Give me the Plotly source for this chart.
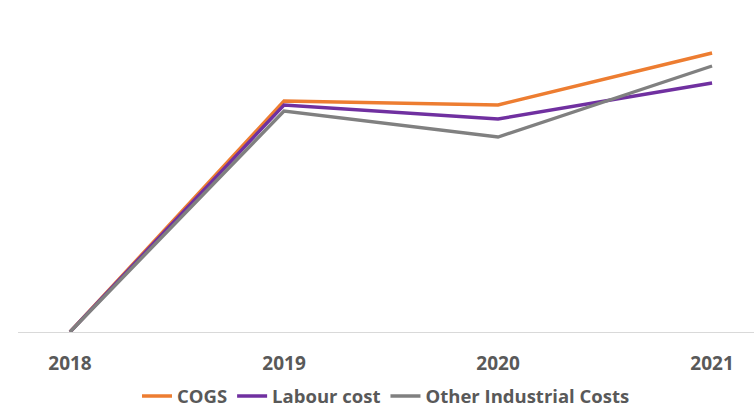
import plotly.graph_objects as go

# Cost growth indices by year (2018 = baseline)
years = ["2018", "2019", "2020", "2021"]
cogs = [0, 23.1, 22.7, 27.9]
labour_cost = [0, 22.7, 21.3, 24.9]
other_industrial = [0, 22.1, 19.5, 26.6]

series = [
    ("COGS", cogs, "#ED7D31"),
    ("Labour cost", labour_cost, "#7030A0"),
    ("Other Industrial Costs", other_industrial, "#808080"),
]

fig = go.Figure()
for name, values, color in series:
    fig.add_trace(go.Scatter(
        x=years, y=values, name=name, mode="lines",
        line=dict(color=color, width=3.4),
    ))

fig.update_layout(
    width=754, height=411,
    margin=dict(l=18, r=0, t=32, b=79, autoexpand=False),
    paper_bgcolor="white", plot_bgcolor="white",
    font=dict(family="Open Sans", color="#595959"),
    showlegend=True,
    legend=dict(
        orientation="h", x=0.5, xanchor="center",
        yref="paper", y=-0.215, yanchor="middle",
        font=dict(size=18.5, family="Open Sans", color="#595959", weight="bold"),
        itemwidth=30, tracegroupgap=0, borderwidth=0,
    ),
    xaxis=dict(
        type="category", range=[-0.243, 3.196],
        showgrid=False, zeroline=False,
        showline=False, ticks="",
        tickfont=dict(size=19, family="Open Sans", color="#595959", weight="bold"),
        ticklabelstandoff=18,
    ),
    yaxis=dict(
        range=[0, 30], visible=True, showticklabels=False,
        showgrid=False, zeroline=True, zerolinecolor="#D9D9D9", zerolinewidth=1.3,
        showline=False, ticks="",
    ),
)

fig.write_html("out.html")
